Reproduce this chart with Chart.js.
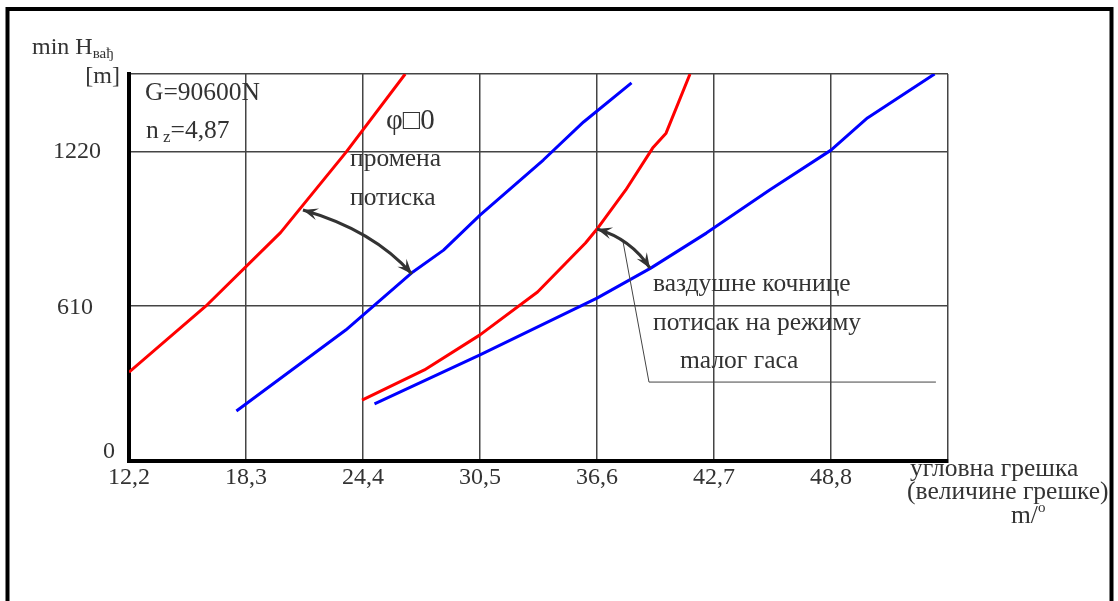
<!DOCTYPE html>
<html>
<head>
<meta charset="utf-8">
<script src="https://cdn.jsdelivr.net/npm/chart.js@4.4.0/dist/chart.umd.min.js"></script>
<style>
  html, body { margin: 0; padding: 0; background: #fff; }
  canvas { display: block; }
</style>
</head>
<body>
<canvas id="chart" width="1118" height="601"></canvas>
<script>
// axis ticks
const xTicks = [12.2, 18.3, 24.4, 30.5, 36.6, 42.7, 48.8, 54.9];
const xTickLabels = ['12,2', '18,3', '24,4', '30,5', '36,6', '42,7', '48,8', ''];
const yTicks = [0, 610, 1220, 1525];
const yTickLabels = ['0', '610', '1220', '[m]'];

// промена потиска (red) and ваздушне кочнице / мали гас (blue)
const red1X = [12.2, 16.2, 20.1, 23.5, 26.6];
const red1Y = [350, 610, 900, 1215, 1525];
const blue1X = [17.8, 23.5, 27.0, 28.6, 30.5, 33.8, 35.9, 38.4];
const blue1Y = [197, 516, 745, 831, 969, 1186, 1336, 1490];
const red2X = [24.35, 27.6, 30.5, 33.5, 36.0, 36.6, 38.1, 39.5, 40.2, 41.45];
const red2Y = [240, 359, 497, 666, 859, 914, 1068, 1233, 1292, 1525];
const blue2X = [25.0, 30.5, 36.6, 39.4, 42.3, 45.6, 48.8, 50.7, 54.2];
const blue2Y = [225, 418, 642, 760, 898, 1068, 1225, 1352, 1525];

const FONT = 'Liberation Serif';
const TEXT = '#333';

function pts(xs, ys) {
  return xs.map((x, i) => ({ x: x, y: ys[i] }));
}

function line(xs, ys, color) {
  return {
    data: pts(xs, ys),
    showLine: true,
    borderColor: color,
    borderWidth: 3,
    pointRadius: 0,
    tension: 0,
    borderJoinStyle: 'round'
  };
}

// double headed curved arrows, in data units: start, control, end
const arrows = [
  [[21.27, 989], [24.92, 910], [26.95, 737]],
  [[36.6, 914], [38.37, 875], [39.36, 760]]
];
// leader line to the note
const leader = [[37.96, 863], [39.31, 311], [54.27, 311]];

function head(ctx, tip, from) {
  const a = Math.atan2(tip[1] - from[1], tip[0] - from[0]);
  const len = 15, w = 6;
  ctx.beginPath();
  ctx.moveTo(tip[0], tip[1]);
  ctx.lineTo(tip[0] - len * Math.cos(a) + w * Math.sin(a), tip[1] - len * Math.sin(a) - w * Math.cos(a));
  ctx.lineTo(tip[0] - len * 0.6 * Math.cos(a), tip[1] - len * 0.6 * Math.sin(a));
  ctx.lineTo(tip[0] - len * Math.cos(a) - w * Math.sin(a), tip[1] - len * Math.sin(a) + w * Math.cos(a));
  ctx.closePath();
  ctx.fill();
}

const notes = {
  id: 'notes',
  beforeDraw(chart) {
    const ctx = chart.ctx;
    ctx.save();
    ctx.strokeStyle = '#000';
    ctx.lineWidth = 4;
    ctx.strokeRect(7.5, 9, 1104, 640);
    ctx.restore();
  },
  afterDraw(chart) {
    const ctx = chart.ctx;
    const xs = chart.scales.x, ys = chart.scales.y;
    const px = p => [xs.getPixelForValue(p[0]), ys.getPixelForValue(p[1])];
    const big = '25.5px "' + FONT + '"';
    ctx.save();

    // y tick labels, each nudged a little like the printed original
    const right = [115, 93, 101, 120];
    const dy = [-9, 2, 0, 3];
    ctx.font = '24px "' + FONT + '"';
    ctx.fillStyle = TEXT;
    ctx.textAlign = 'right';
    ctx.textBaseline = 'middle';
    yTicks.forEach((v, i) => {
      ctx.fillText(yTickLabels[i], right[i], ys.getPixelForValue(v) + dy[i]);
    });

    ctx.textAlign = 'left';
    ctx.textBaseline = 'alphabetic';
    // y axis title with subscript
    ctx.font = '24px "' + FONT + '"';
    ctx.fillText('min H', 32, 54);
    let w = ctx.measureText('min H').width;
    ctx.font = '15px "' + FONT + '"';
    ctx.fillText('вађ', 32 + w, 58);

    ctx.font = big;
    ctx.fillText('G=90600N', 145, 100);
    ctx.fillText('n', 146, 138);
    w = ctx.measureText('n').width;
    ctx.font = '17px "' + FONT + '"';
    ctx.fillText(' z', 146 + w, 142);
    const w2 = ctx.measureText(' z').width;
    ctx.font = big;
    ctx.fillText('=4,87', 146 + w + w2, 138);

    ctx.font = '29px "' + FONT + '"';
    ctx.fillText('φ□0', 386, 129);
    ctx.font = big;
    ctx.fillText('промена', 350, 166);
    ctx.fillText('потиска', 350, 205);
    ctx.fillText('ваздушне кочнице', 653, 291);
    ctx.fillText('потисак на режиму', 653, 330);
    ctx.fillText('mалог гаса', 680, 368);

    // x axis title
    ctx.fillText('угловна грешка', 910, 476);
    ctx.fillText('(величине грешке)', 907, 499);
    ctx.fillText('m/', 1011, 523);
    w = ctx.measureText('m/').width;
    ctx.font = '15px "' + FONT + '"';
    ctx.fillText('o', 1011 + w, 512);

    // leader line
    ctx.strokeStyle = '#444';
    ctx.lineWidth = 1;
    ctx.beginPath();
    leader.map(px).forEach((p, i) => i ? ctx.lineTo(p[0], p[1]) : ctx.moveTo(p[0], p[1]));
    ctx.stroke();

    // curved arrows
    ctx.strokeStyle = '#333';
    ctx.fillStyle = '#333';
    ctx.lineWidth = 3;
    arrows.forEach(a => {
      const [p0, c, p2] = a.map(px);
      ctx.beginPath();
      ctx.moveTo(p0[0], p0[1]);
      ctx.quadraticCurveTo(c[0], c[1], p2[0], p2[1]);
      ctx.stroke();
      head(ctx, p0, c);
      head(ctx, p2, c);
    });
    ctx.restore();
  }
};

new Chart(document.getElementById('chart').getContext('2d'), {
  type: 'scatter',
  data: {
    datasets: [
      line(red1X, red1Y, '#ff0000'),
      line(blue1X, blue1Y, '#0000ff'),
      line(red2X, red2Y, '#ff0000'),
      line(blue2X, blue2Y, '#0000ff')
    ]
  },
  options: {
    responsive: false,
    animation: false,
    layout: { padding: { left: 0, right: 170, top: 74, bottom: 0 } },
    plugins: { legend: { display: false }, tooltip: { enabled: false } },
    scales: {
      x: {
        type: 'linear',
        min: 12.2,
        max: 54.9,
        afterBuildTicks: s => { s.ticks = xTicks.map(v => ({ value: v })); },
        afterFit: s => { s.height = 140; },
        ticks: {
          callback: (v, i) => xTickLabels[i],
          font: { family: FONT, size: 24 },
          color: TEXT,
          padding: 2,
          maxRotation: 0,
          autoSkip: false
        },
        grid: { color: '#444', lineWidth: 1.5, drawTicks: false },
        border: { color: '#000', width: 4 }
      },
      y: {
        type: 'linear',
        min: 0,
        max: 1525,
        afterBuildTicks: s => { s.ticks = yTicks.map(v => ({ value: v })); },
        afterFit: s => { s.width = 129; },
        ticks: { display: false },
        grid: { color: '#444', lineWidth: 1.5, drawTicks: false },
        border: { color: '#000', width: 4 }
      }
    }
  },
  plugins: [notes]
});
</script>
</body>
</html>
